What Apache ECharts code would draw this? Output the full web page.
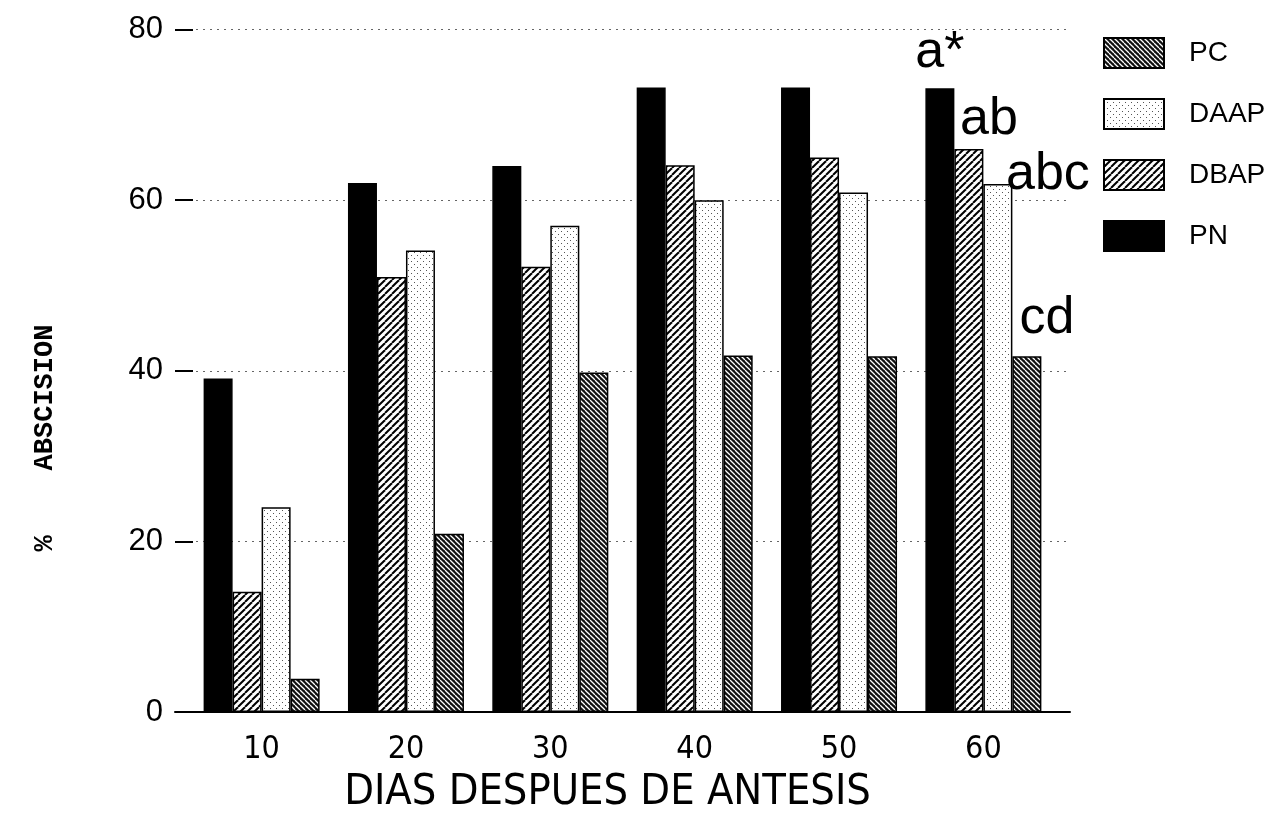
<!DOCTYPE html>
<html>
<head>
<meta charset="utf-8">
<script src="https://cdn.jsdelivr.net/npm/echarts@6/dist/echarts.min.js"></script>
<style>
  html, body { margin: 0; padding: 0; background: #fff; }
  #chart { width: 1272px; height: 820px; }
</style>
</head>
<body>
<div id="chart"></div>
<script>
// Days after anthesis (x categories) and % abscission per treatment
const days = [10, 20, 30, 40, 50, 60];
const seriesNames = ['PN', 'DBAP', 'DAAP', 'PC'];
const legendOrder = ['PC', 'DAAP', 'DBAP', 'PN'];
const pnValues   = [39.1, 62.0, 64.0, 73.2, 73.2, 73.1];
const dbapValues = [14.1, 51.0, 52.2, 64.1, 65.0, 66.0];
const daapValues = [24.0, 54.1, 57.0, 60.0, 60.9, 61.9];
const pcValues   = [3.9, 20.9, 39.8, 41.8, 41.7, 41.7];
const yTicks = [0, 20, 40, 60, 80];
// Significance letters shown over the last group (same order as seriesNames)
const groupLetters = ['a*', 'ab', 'abc', 'cd'];

// --- fill patterns ---------------------------------------------------------
function tile(size, draw) {
  const c = document.createElement('canvas');
  c.width = size; c.height = size;
  draw(c.getContext('2d'), size);
  return c;
}
const hatchUp = tile(7, (g, s) => {
  g.fillStyle = '#fff'; g.fillRect(0, 0, s, s);
  g.strokeStyle = '#000'; g.lineWidth = 2;
  for (const k of [-s, 0, s]) { g.beginPath(); g.moveTo(k, s); g.lineTo(k + s, 0); g.stroke(); }
});
const stipple = tile(6, (g, s) => {
  g.fillStyle = '#fff'; g.fillRect(0, 0, s, s);
  g.fillStyle = '#555';
  g.fillRect(0, 0, 1, 1);
  g.fillRect(3, 3, 1, 1);
});
const darkHatch = tile(5, (g, s) => {
  g.fillStyle = '#111'; g.fillRect(0, 0, s, s);
  g.strokeStyle = '#fff'; g.lineWidth = 1.3;
  for (const k of [-s, 0, s]) { g.beginPath(); g.moveTo(k, 0); g.lineTo(k + s, s); g.stroke(); }
});

const fills = {
  PN: '#000',
  DBAP: { image: hatchUp, repeat: 'repeat' },
  DAAP: { image: stipple, repeat: 'repeat' },
  PC: { image: darkHatch, repeat: 'repeat' }
};
const valuesByName = { PN: pnValues, DBAP: dbapValues, DAAP: daapValues, PC: pcValues };
const letterOffsets = [[0, -10], [20, -3], [50, 17], [20, -12]];

const series = seriesNames.map((name, si) => ({
  name,
  type: 'bar',
  barWidth: 29,
  barGap: '0%',
  itemStyle: { color: fills[name], borderColor: '#000', borderWidth: 1.5 },
  emphasis: { disabled: true },
  data: valuesByName[name].map((v, i) => {
    const item = { value: [days[i], v] };
    if (i === days.length - 1) {
      item.label = {
        show: true,
        position: 'top',
        distance: 0,
        offset: letterOffsets[si],
        formatter: groupLetters[si],
        fontSize: 52,
        fontFamily: '"Liberation Sans", Arial, sans-serif',
        color: '#000'
      };
    }
    return item;
  })
}));

const chart = echarts.init(document.getElementById('chart'), null, { renderer: 'canvas' });
chart.setOption({
  animation: false,
  backgroundColor: '#fff',
  grid: { left: 175, right: 202, top: 29.5, bottom: 108, containLabel: false },
  legend: {
    data: legendOrder,
    orient: 'vertical',
    left: 1103,
    top: 37,
    padding: 0,
    itemWidth: 60,
    itemHeight: 30,
    itemGap: 29,
    icon: 'rect',
    selectedMode: false,
    textStyle: {
      fontSize: 28,
      fontFamily: '"Liberation Sans", Arial, sans-serif',
      color: '#000',
      padding: [0, 0, 0, 20]
    }
  },
  xAxis: {
    type: 'value',
    min: 4,
    max: 66,
    axisLine: { show: true, lineStyle: { color: '#000', width: 2 } },
    axisTick: { show: false },
    splitLine: { show: false },
    axisLabel: {
      customValues: days,
      margin: 22,
      fontSize: 32,
      fontFamily: '"Liberation Sans Narrow", "DejaVu Sans Condensed", sans-serif',
      color: '#000'
    },
    name: 'DIAS DESPUES DE ANTESIS',
    nameLocation: 'middle',
    nameGap: 48,
    nameTextStyle: {
      fontSize: 43,
      fontFamily: '"Liberation Sans Narrow", "DejaVu Sans Condensed", sans-serif',
      color: '#000',
      padding: [0, 30, 0, 0]
    }
  },
  yAxis: {
    type: 'value',
    min: yTicks[0],
    max: yTicks[yTicks.length - 1],
    interval: yTicks[1] - yTicks[0],
    axisLine: { show: false },
    axisTick: { show: true, inside: true, length: 18, lineStyle: { color: '#000', width: 2 } },
    splitLine: { show: true, lineStyle: { color: '#666', width: 1, type: [2, 5] } },
    axisLabel: {
      margin: 12,
      fontSize: 31,
      fontFamily: '"Liberation Sans", Arial, sans-serif',
      color: '#000'
    }
  },
  graphic: [{
    type: 'text',
    x: 45,
    y: 438,
    rotation: Math.PI / 2,
    style: {
      text: '%    ABSCISION',
      font: 'bold 27px "Liberation Mono", "DejaVu Sans Mono", monospace',
      fill: '#000',
      textAlign: 'center',
      textVerticalAlign: 'middle'
    }
  }],
  series
});
</script>
</body>
</html>
